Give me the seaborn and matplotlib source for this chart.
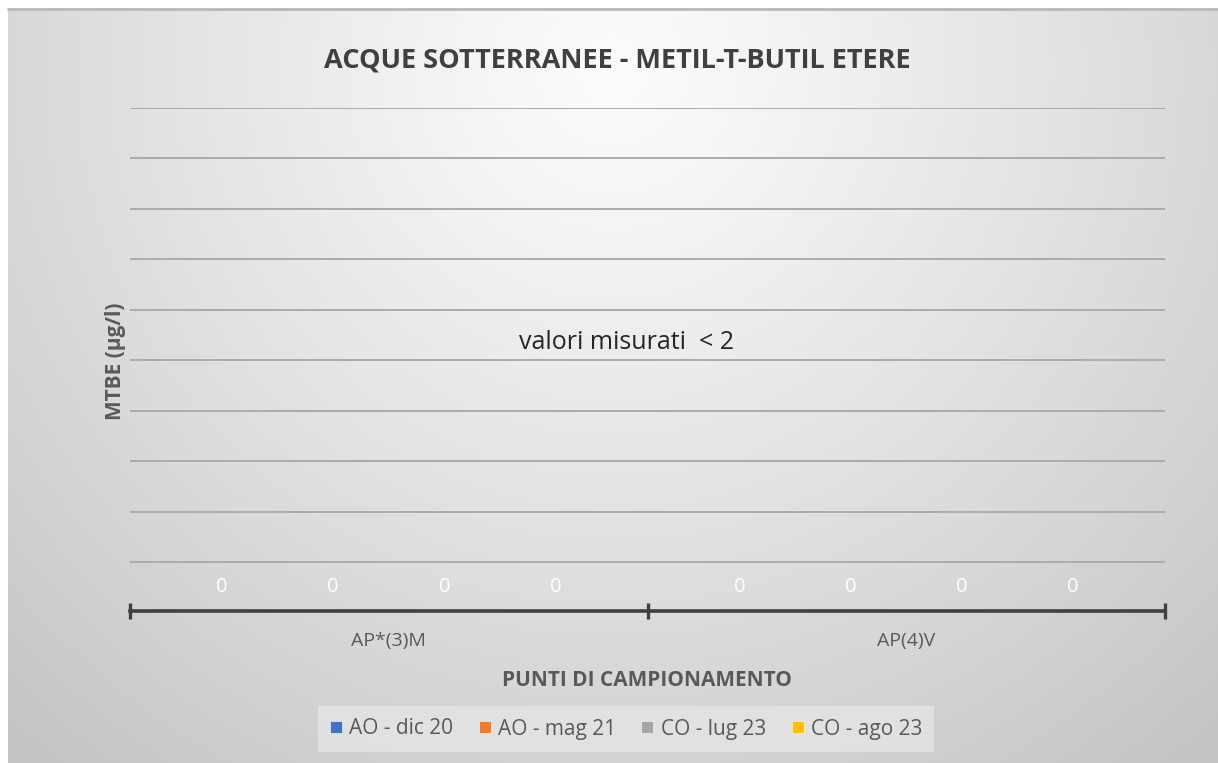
import numpy as np
import pandas as pd
import matplotlib
matplotlib.use("Agg")
import matplotlib.pyplot as plt
import seaborn as sns
from matplotlib.lines import Line2D

# ---- data ----
points = ["AP*(3)M", "AP(4)V"]
campaigns = ["AO - dic 20", "AO - mag 21", "CO - lug 23", "CO - ago 23"]
values_ap3m = [0, 0, 0, 0]
values_ap4v = [0, 0, 0, 0]
colors = ["#4472C4", "#ED7D31", "#A5A5A5", "#FFC000"]
title = "ACQUE SOTTERRANEE - METIL-T-BUTIL ETERE"
ylabel = "MTBE (µg/l)"
xlabel = "PUNTI DI CAMPIONAMENTO"
note = "valori misurati  < 2"

df = pd.DataFrame({
    "punto": [points[0]] * 4 + [points[1]] * 4,
    "campagna": campaigns * 2,
    "valore": values_ap3m + values_ap4v,
})

sns.set_theme(style="white")
plt.rcParams["font.family"] = ["Open Sans", "DejaVu Sans"]

W, H = 1218, 763
fig = plt.figure(figsize=(W / 100, H / 100), dpi=100)
fig.patch.set_facecolor("white")

# background gradient panel
bx0 = 8 / W
bg = fig.add_axes([bx0, 0, 1 - bx0, 1 - 9 / H])
yy, xx = np.mgrid[0:300, 0:600]
cx, cy = 0.50, 0.08
dx = (xx / 599 - cx) / 0.75
dy = (yy / 299 - cy) / 1.2
r = np.sqrt(dx ** 2 + dy ** 2)
v = 0.99 - 0.22 * np.clip(r, 0, 1.2) ** 1.1
img = np.dstack([v, v, v])
bg.imshow(img, aspect="auto", extent=[0, 1, 0, 1], origin="upper", interpolation="bilinear")
bg.plot([0, 1], [1, 1], color="#b8b8b8", lw=2, transform=bg.transAxes, clip_on=False)
bg.set_axis_off()

# main plot area
left, right = 130 / W, 1165 / W
top, bottom = 1 - 108 / H, 1 - 611 / H
ax = fig.add_axes([left, bottom, right - left, top - bottom])
ax.patch.set_alpha(0)

sns.barplot(data=df, x="punto", y="valore", hue="campagna", hue_order=campaigns,
            palette=colors, width=0.86, linewidth=0, ax=ax, legend=False)

ax.set_xlim(-0.5, 1.5)
ax.set_ylim(-0.97, 9)
for g in range(10):
    ax.axhline(g, color="#ababab", lw=1.4, zorder=0)

# data labels
for cont in ax.containers:
    for bar in cont:
        xc = bar.get_x() + bar.get_width() / 2
        ax.text(xc, -0.5, f"{bar.get_height():g}", ha="center", va="center",
                color="white", fontsize=14.5)

for s in ["top", "right", "left"]:
    ax.spines[s].set_visible(False)
ax.spines["bottom"].set_color("#404040")
ax.spines["bottom"].set_linewidth(2.6)
ax.set_yticks([])
ax.set_xticks([-0.5, 0.5, 1.5])
ax.set_xticklabels([])
ax.tick_params(axis="x", which="major", bottom=True, direction="inout", length=11,
               width=2.4, color="#404040")
ax.set_xticks([0, 1], minor=True)
ax.set_xticklabels(points, minor=True)
ax.tick_params(axis="x", which="minor", bottom=True, length=0, pad=15, labelsize=14,
               labelcolor="#595959")
ax.set_xlabel(xlabel, fontsize=15, fontweight="bold", color="#595959")
ax.xaxis.set_label_coords(0.5, -(680 - 611) / 503)
ax.xaxis.label.set_va("center")
ax.set_ylabel(ylabel, fontsize=15, fontweight="bold", color="#595959")
ax.yaxis.set_label_coords(-15 / 1035, 0.497)
ax.yaxis.label.set_va("center")

ax.text(0.480, 0.533, note, transform=ax.transAxes, ha="center", va="center",
        fontsize=18, color="#262626")

fig.text(617 / W, 1 - 61 / H, title, ha="center", va="center", fontsize=19.5,
         fontweight="bold", color="#404040")

# legend
handles = [Line2D([], [], marker="s", ls="", markersize=9, color=c,
                  markeredgecolor="#f0f0f0", markeredgewidth=0.5) for c in colors]
leg = fig.legend(handles, campaigns, loc="center", bbox_to_anchor=(626 / W, 1 - 729 / H),
                 ncol=4, frameon=True, fontsize=15, handletextpad=0.35, columnspacing=1.25,
                 handlelength=0.55, borderpad=0.6, borderaxespad=0)
leg.get_frame().set_facecolor("#e4e4e4")
leg.get_frame().set_edgecolor("none")
leg.get_frame().set_alpha(0.85)
leg.get_frame().set_boxstyle("square", pad=0)
for t in leg.get_texts():
    t.set_color("#595959")

fig.savefig("out.png", dpi=100)
